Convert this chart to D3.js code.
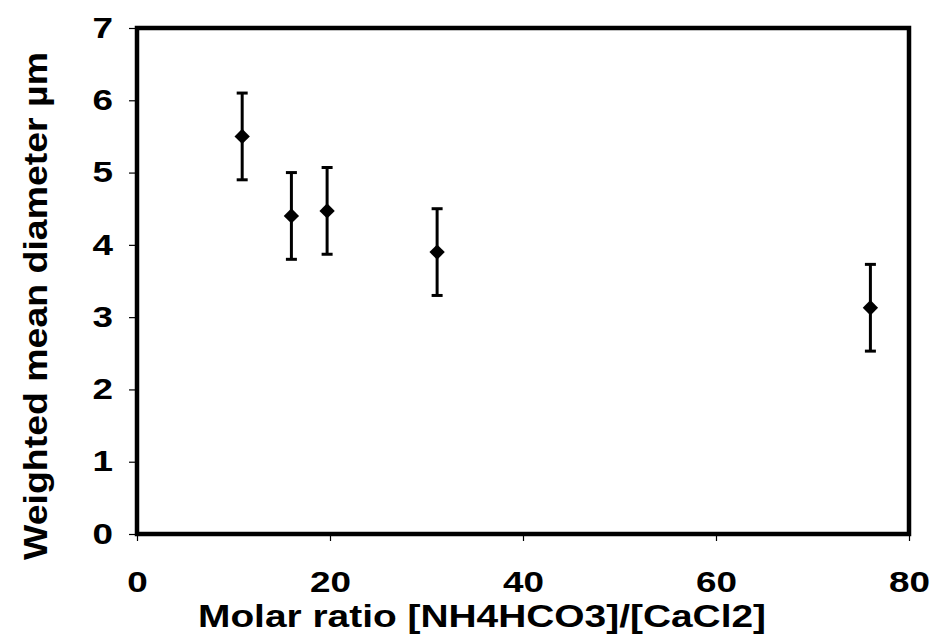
<!DOCTYPE html>
<html>
<head>
<meta charset="utf-8">
<script src="https://cdn.jsdelivr.net/npm/d3@7"></script>
<style>
  body { margin: 0; background: #fff; }
  text { font-family: "Liberation Sans", Arial, sans-serif; font-weight: bold; fill: #000; }
</style>
</head>
<body>
<script>
// data
var molarRatio = [10.9, 16.0, 19.7, 31.1, 76.0];
var meanDiameter = [5.5, 4.4, 4.47, 3.9, 3.13];
var errorBar = [0.6, 0.6, 0.6, 0.6, 0.6];
var xTicks = [0, 20, 40, 60, 80];
var yTicks = [0, 1, 2, 3, 4, 5, 6, 7];

var svgWidth = 931;
var svgHeight = 634;

var margin = { top: 28, right: 22, bottom: 100, left: 137 };
var width = svgWidth - margin.left - margin.right;
var height = svgHeight - margin.top - margin.bottom;

var svg = d3.select("body")
  .append("svg")
  .attr("width", svgWidth)
  .attr("height", svgHeight);

var chartGroup = svg.append("g")
  .attr("transform", `translate(${margin.left}, ${margin.top})`);

var xScale = d3.scaleLinear().domain([0, 80]).range([0, width]);
var yScale = d3.scaleLinear().domain([0, 7]).range([height, 0]);

// axes (thin ticks, labels)
var bottomAxis = d3.axisBottom(xScale).tickValues(xTicks).tickFormat(d3.format("d"))
  .tickSize(7).tickPadding(30);
var leftAxis = d3.axisLeft(yScale).tickValues(yTicks).tickFormat(d3.format("d"))
  .tickSize(8).tickPadding(16);

var xAxis = chartGroup.append("g")
  .attr("transform", `translate(0, ${height})`)
  .call(bottomAxis);
var yAxis = chartGroup.append("g").call(leftAxis);

[xAxis, yAxis].forEach(function(ax) {
  ax.attr("font-size", null).attr("font-family", null);
  ax.select(".domain").remove();
  ax.selectAll("line").attr("stroke", "#000").attr("stroke-width", 1.2);
  // the original lettering is wide, so stretch the digits a bit
  ax.selectAll("text")
    .style("font-size", "29px")
    .attr("textLength", d => String(d).length * 20.5)
    .attr("lengthAdjust", "spacingAndGlyphs");
});

// plot frame
chartGroup.append("rect")
  .attr("x", 0)
  .attr("y", 0)
  .attr("width", width)
  .attr("height", height)
  .attr("fill", "none")
  .attr("stroke", "#000")
  .attr("stroke-width", 4.5);

// error bars
var bars = chartGroup.selectAll(".err")
  .data(molarRatio)
  .enter()
  .append("g")
  .attr("class", "err");

bars.append("line")
  .attr("x1", (d, i) => xScale(d))
  .attr("x2", (d, i) => xScale(d))
  .attr("y1", (d, i) => yScale(meanDiameter[i] + errorBar[i]))
  .attr("y2", (d, i) => yScale(meanDiameter[i] - errorBar[i]))
  .attr("stroke", "#000")
  .attr("stroke-width", 3);

[1, -1].forEach(function(s) {
  bars.append("line")
    .attr("x1", d => xScale(d) - 5.5)
    .attr("x2", d => xScale(d) + 5.5)
    .attr("y1", (d, i) => yScale(meanDiameter[i] + s * errorBar[i]))
    .attr("y2", (d, i) => yScale(meanDiameter[i] + s * errorBar[i]))
    .attr("stroke", "#000")
    .attr("stroke-width", 3);
});

// diamond markers
chartGroup.selectAll(".pt")
  .data(molarRatio)
  .enter()
  .append("path")
  .attr("class", "pt")
  .attr("d", d3.symbol().type(d3.symbolDiamond2).size(150))
  .attr("transform", (d, i) => `translate(${xScale(d)}, ${yScale(meanDiameter[i])})`)
  .attr("fill", "#000");

// axis titles
svg.append("text")
  .attr("x", 198)
  .attr("y", 627)
  .attr("textLength", 568)
  .attr("lengthAdjust", "spacingAndGlyphs")
  .style("font-size", "31px")
  .text("Molar ratio [NH4HCO3]/[CaCl2]");

svg.append("text")
  .attr("transform", "rotate(-90)")
  .attr("x", -560)
  .attr("y", 47)
  .attr("textLength", 508)
  .attr("lengthAdjust", "spacingAndGlyphs")
  .style("font-size", "34px")
  .text("Weighted mean diameter µm");
</script>
</body>
</html>
